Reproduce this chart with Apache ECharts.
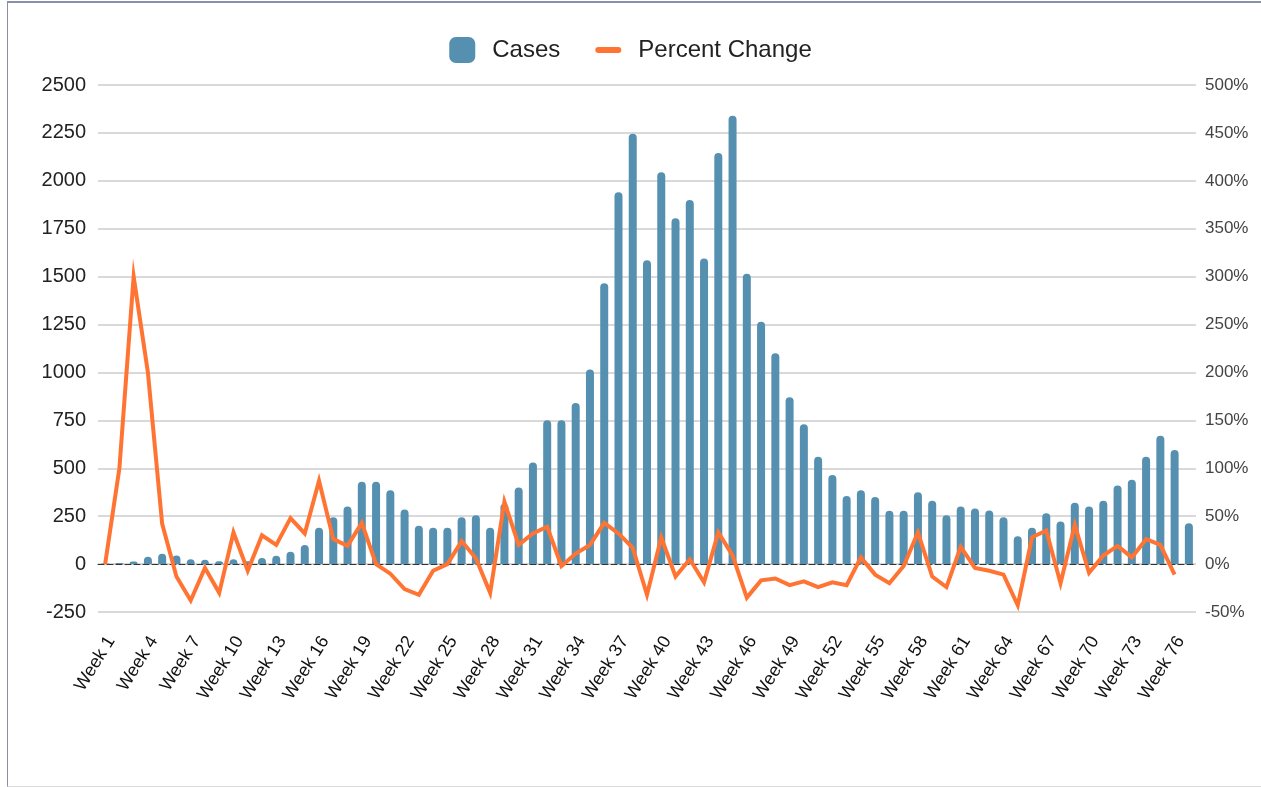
<!DOCTYPE html>
<html>
<head>
<meta charset="utf-8">
<script src="https://cdn.jsdelivr.net/npm/echarts@6/dist/echarts.min.js"></script>
<style>
  html, body { margin: 0; padding: 0; background: #fff; }
  #weeklyCasesChart { position: absolute; left: 0; top: 0; width: 1261px; height: 787px; }
  .frame {
    position: absolute; left: 7px; top: 1px; width: 1300px; height: 783px;
    border-top: 2px solid #8a8fa8; border-left: 1px solid #8a8fa8; border-bottom: 1px solid #dcdcdc;
    pointer-events: none;
  }
</style>
</head>
<body>
<div id="weeklyCasesChart"></div>
<div class="frame"></div>
<script>
// weeks on the x axis
const weeks = [
  "Week 1", "Week 2", "Week 3", "Week 4", "Week 5", "Week 6", "Week 7", "Week 8", "Week 9", "Week 10",
  "Week 11", "Week 12", "Week 13", "Week 14", "Week 15", "Week 16", "Week 17", "Week 18", "Week 19", "Week 20",
  "Week 21", "Week 22", "Week 23", "Week 24", "Week 25", "Week 26", "Week 27", "Week 28", "Week 29", "Week 30",
  "Week 31", "Week 32", "Week 33", "Week 34", "Week 35", "Week 36", "Week 37", "Week 38", "Week 39", "Week 40",
  "Week 41", "Week 42", "Week 43", "Week 44", "Week 45", "Week 46", "Week 47", "Week 48", "Week 49", "Week 50",
  "Week 51", "Week 52", "Week 53", "Week 54", "Week 55", "Week 56", "Week 57", "Week 58", "Week 59", "Week 60",
  "Week 61", "Week 62", "Week 63", "Week 64", "Week 65", "Week 66", "Week 67", "Week 68", "Week 69", "Week 70",
  "Week 71", "Week 72", "Week 73", "Week 74", "Week 75", "Week 76", "Week 77"
];

// weekly case counts (left axis)
const cases = [
  3, 6, 13, 38, 54, 45, 25, 22, 15, 25,
  15, 32, 43, 65, 100, 190, 245, 300, 430, 430,
  385, 285, 200, 190, 190, 245, 255, 190, 315, 400,
  530, 750, 750, 840, 1015, 1465, 1940, 2245, 1585, 2045,
  1805, 1900, 1595, 2145, 2340, 1515, 1265, 1100, 870, 730,
  560, 465, 355, 385, 350, 278, 278, 375, 330, 255,
  300, 290, 280, 245, 145, 190, 265, 222, 320, 300,
  330, 410, 440, 560, 670, 595, 213
];

// week over week change in % (right axis), last week has no value
const percentChange = [
  0, 100, 300, 200, 42, -13, -38, -4, -30, 33,
  -7, 30, 20, 48, 32, 87, 26, 19, 43, 0,
  -10, -26, -32, -7, 0, 24, 6, -30, 65, 20,
  32, 39, -2, 11, 20, 43, 32, 17, -32, 28,
  -13, 5, -19, 33, 9, -35, -17, -15, -22, -18,
  -24, -19, -22, 7, -11, -20, -2, 33, -13, -24,
  18, -4, -7, -11, -43, 28, 35, -20, 41, -9,
  9, 19, 7, 26, 20, -11, null
];

// axis ranges
const casesAxis = { min: -250, max: 2500, step: 250 };
const percentAxis = { min: -50, max: 500, step: 50 };

const BLUE = "#5690b0";
const ORANGE = "#ff7433";
const FONT = "'Liberation Sans', Arial, sans-serif";

const chart = echarts.init(document.getElementById("weeklyCasesChart"));

const plotBox = { left: 98, right: 65, top: 85, bottom: 175 };
// the week labels sit a few px right of the band centres in the original,
// so they get their own (label only) axis on a shifted copy of the grid
const labelShift = 6;

const option = {
  animation: false,
  textStyle: { fontFamily: FONT },
  legend: {
    top: 32,
    left: "center",
    itemWidth: 26,
    itemHeight: 26,
    itemGap: 35,
    textStyle: { fontSize: 24, color: "#222", padding: [0, 0, 0, 12] },
    data: [
      { name: "Cases", icon: "roundRect" },
      { name: "Percent Change", icon: "path://M3,0H23A3,3 0 0 1 23,6H3A3,3 0 0 1 3,0Z" }
    ]
  },
  grid: [
    plotBox,
    {
      left: plotBox.left + labelShift,
      right: plotBox.right - labelShift,
      top: plotBox.top,
      bottom: plotBox.bottom
    }
  ],
  xAxis: [
    {
      type: "category",
      data: weeks,
      axisLine: {
        onZero: true,
        lineStyle: { color: "#333", width: 1, type: [6, 3] }
      },
      axisTick: { show: false },
      axisLabel: { show: false }
    },
    {
      type: "category",
      gridIndex: 1,
      data: weeks,
      axisLine: { show: false },
      axisTick: { show: false },
      splitLine: { show: false },
      axisLabel: {
        interval: 2,
        rotate: 58,
        fontSize: 18,
        color: "#111",
        margin: 26
      }
    }
  ],
  yAxis: [
    {
      type: "value",
      min: casesAxis.min,
      max: casesAxis.max,
      interval: casesAxis.step,
      axisLine: { show: false },
      axisTick: { show: false },
      axisLabel: { fontSize: 20, color: "#222", margin: 12, formatter: (v) => String(v) },
      splitLine: { lineStyle: { color: "#cccccc", width: 1.5 } }
    },
    {
      type: "value",
      min: percentAxis.min,
      max: percentAxis.max,
      interval: percentAxis.step,
      axisLine: { show: false },
      axisTick: { show: false },
      axisLabel: { fontSize: 17, color: "#444", margin: 9, formatter: "{value}%" },
      splitLine: { show: false }
    },
    {
      type: "value",
      gridIndex: 1,
      show: false
    }
  ],
  series: [
    {
      name: "Cases",
      type: "bar",
      yAxisIndex: 0,
      data: cases,
      barWidth: 8,
      itemStyle: { color: BLUE, borderRadius: [4, 4, 0, 0] }
    },
    {
      name: "Percent Change",
      type: "line",
      yAxisIndex: 1,
      data: percentChange,
      symbol: "none",
      itemStyle: { color: ORANGE },
      lineStyle: { color: ORANGE, width: 4, join: "miter" },
      z: 3
    }
  ]
};

chart.setOption(option);
</script>
</body>
</html>
